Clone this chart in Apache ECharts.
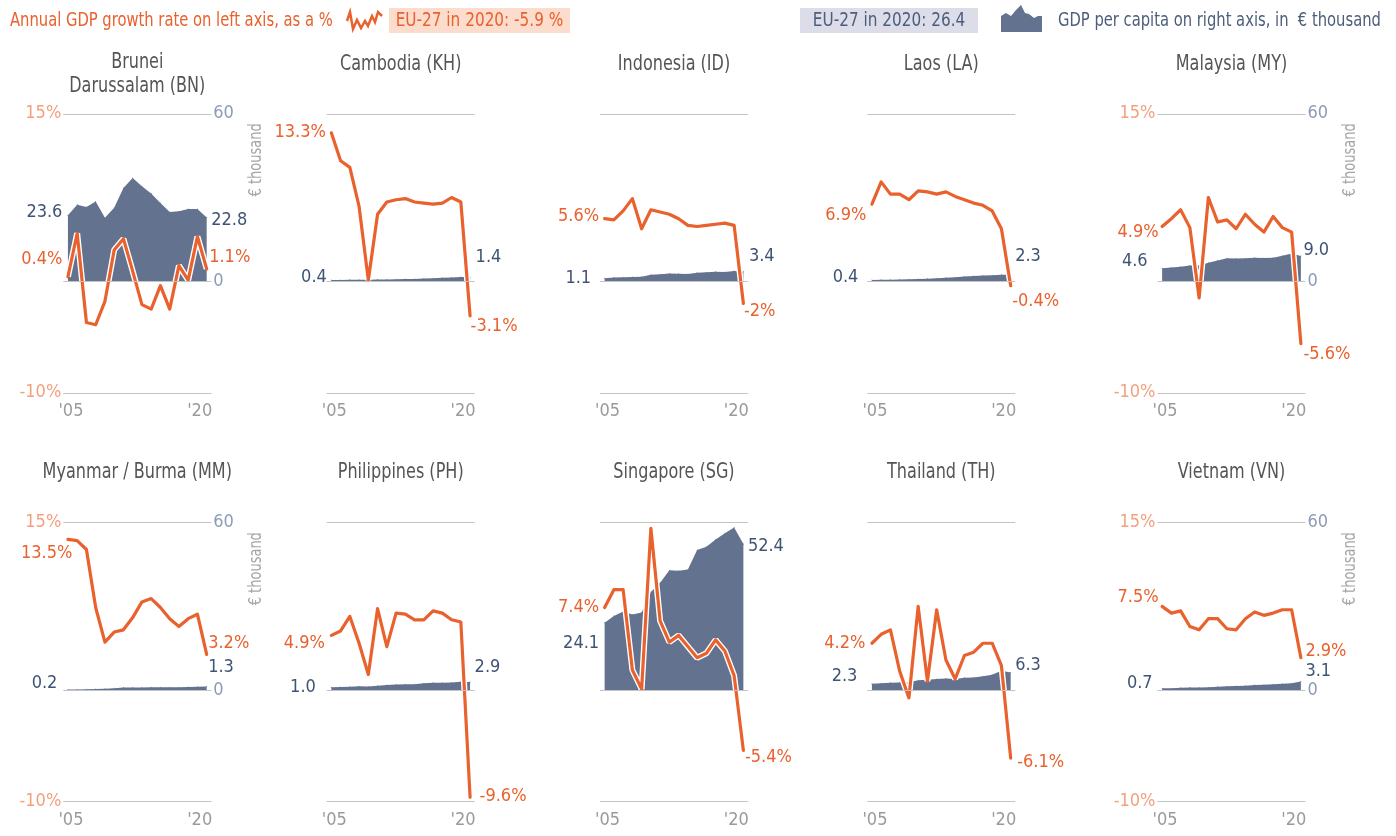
<!DOCTYPE html>
<html><head><meta charset="utf-8">
<script src="https://cdn.jsdelivr.net/npm/echarts@6/dist/echarts.min.js"></script>
<style>html,body{margin:0;padding:0;background:#fff}#c{width:1396px;height:836px}</style>
</head><body><div id="c"></div>
<script>
// ---------- DATA ----------
const YEARS = [2005,2006,2007,2008,2009,2010,2011,2012,2013,2014,2015,2016,2017,2018,2019,2020];
const X_TICKS = ["'05", "'20"];
const LEFT_TICKS = [15, -10];   // % labels shown on left axis
const RIGHT_TICKS = [60, 0];    // € thousand labels shown on right axis
const TITLES = ['Brunei\nDarussalam (BN)','Cambodia (KH)','Indonesia (ID)','Laos (LA)','Malaysia (MY)',
                'Myanmar / Burma (MM)','Philippines (PH)','Singapore (SG)','Thailand (TH)','Vietnam (VN)'];

const growthBN = [0.4, 4.3, -3.7, -3.9, -1.8, 2.8, 3.8, 0.9, -2.1, -2.5, -0.4, -2.5, 1.4, 0.1, 4.0, 1.1];
const gdpBN    = [23.6, 27.4, 26.6, 28.6, 22.7, 26.3, 33.4, 37.0, 34.0, 31.4, 28.0, 24.8, 25.1, 25.9, 25.9, 22.8];
const growthKH = [13.3, 10.8, 10.2, 6.7, 0.1, 6.0, 7.1, 7.3, 7.4, 7.1, 7.0, 6.9, 7.0, 7.5, 7.1, -3.1];
const gdpKH    = [0.4, 0.4, 0.5, 0.5, 0.5, 0.6, 0.6, 0.7, 0.8, 0.8, 1.0, 1.1, 1.2, 1.3, 1.5, 1.4];
const growthID = [5.6, 5.5, 6.3, 7.4, 4.7, 6.4, 6.2, 6.0, 5.6, 5.0, 4.9, 5.0, 5.1, 5.2, 5.0, -2.0];
const gdpID    = [1.1, 1.3, 1.4, 1.5, 1.6, 2.3, 2.5, 2.8, 2.7, 2.6, 3.0, 3.2, 3.4, 3.3, 3.7, 3.4];
const growthLA = [6.9, 8.9, 7.8, 7.8, 7.3, 8.1, 8.0, 7.8, 8.0, 7.6, 7.3, 7.0, 6.8, 6.3, 4.7, -0.4];
const gdpLA    = [0.4, 0.5, 0.5, 0.6, 0.7, 0.8, 0.9, 1.1, 1.2, 1.4, 1.7, 1.9, 2.0, 2.1, 2.3, 2.3];
const growthMY = [4.9, 5.6, 6.4, 4.8, -1.5, 7.5, 5.3, 5.5, 4.7, 6.0, 5.1, 4.4, 5.8, 4.8, 4.4, -5.6];
const gdpMY    = [4.6, 4.9, 5.2, 5.6, 5.6, 6.6, 7.4, 8.2, 8.1, 8.2, 8.4, 8.3, 8.4, 9.1, 9.9, 9.0];
const growthMM = [13.5, 13.4, 12.6, 7.4, 4.3, 5.2, 5.4, 6.5, 7.9, 8.2, 7.4, 6.4, 5.7, 6.4, 6.8, 3.2];
const gdpMM    = [0.2, 0.2, 0.3, 0.4, 0.5, 0.7, 0.9, 0.9, 0.9, 1.0, 1.0, 1.0, 1.0, 1.1, 1.2, 1.3];
const growthPH = [4.9, 5.3, 6.6, 4.2, 1.4, 7.3, 3.9, 6.9, 6.8, 6.3, 6.3, 7.1, 6.9, 6.3, 6.1, -9.6];
const gdpPH    = [1.0, 1.1, 1.2, 1.4, 1.3, 1.6, 1.8, 2.0, 2.1, 2.1, 2.5, 2.6, 2.6, 2.7, 3.0, 2.9];
const growthSG = [7.4, 9.0, 9.0, 1.8, 0.1, 14.5, 6.2, 4.3, 4.9, 3.9, 2.9, 3.3, 4.5, 3.5, 1.3, -5.4];
const gdpSG    = [24.1, 26.6, 28.2, 27.1, 27.8, 35.2, 38.5, 43.0, 42.8, 43.2, 50.2, 51.4, 54.0, 56.2, 58.3, 52.4];
const growthTH = [4.2, 5.0, 5.4, 1.7, -0.7, 7.5, 0.8, 7.2, 2.7, 1.0, 3.1, 3.4, 4.2, 4.2, 2.2, -6.1];
const gdpTH    = [2.3, 2.5, 2.6, 2.7, 2.8, 3.5, 3.7, 4.0, 4.2, 4.0, 4.4, 4.5, 5.0, 5.5, 6.9, 6.3];
const growthVN = [7.5, 6.9, 7.1, 5.7, 5.4, 6.4, 6.4, 5.5, 5.4, 6.4, 7.0, 6.7, 6.9, 7.2, 7.2, 2.9];
const gdpVN    = [0.7, 0.7, 0.8, 0.9, 0.9, 1.0, 1.2, 1.4, 1.5, 1.6, 1.8, 1.9, 2.1, 2.3, 2.5, 3.1];

const GROWTH = [growthBN, growthKH, growthID, growthLA, growthMY, growthMM, growthPH, growthSG, growthTH, growthVN];
const GDP    = [gdpBN, gdpKH, gdpID, gdpLA, gdpMY, gdpMM, gdpPH, gdpSG, gdpTH, gdpVN];

// ---------- LAYOUT / STYLE ----------
const FONT = "'Liberation Sans Narrow','DejaVu Sans Condensed','Arial Narrow',sans-serif";
const LBL = 18;          // label font size
const SX = 0.85;         // horizontal squeeze for free text
const SXL = 0.82;        // squeeze for legend text
const ORANGE = '#e9612d', ORANGE_LIGHT = '#f3a07e', AREA = '#63728f', BLUE_TXT = '#3f5475', BLUE_LIGHT = '#8e9bb7';
const GRIDLINE = '#c4c4c4', TITLE_C = '#555555', XLAB = '#9a9a9a';
const COL_LEFT = [63.3, 326.7, 600, 867.3, 1157.5];
const GRID_W = 148;
const ROW_TOP = [113.8, 522.7];
const GRID_H = 279;
const AXES_SHOWN = [true, false, false, false, true, true, false, false, false, true];
// label offsets [firstGrowth, firstGdp, lastGrowth, lastGdp] as [dx, dy]
const LOFF = [
  [[0,-17],[0,-3],[-3,-12],[-1,3]],
  [[0,0],[1,-3],[-5,11],[0,-20]],
  [[0,-2],[-8,0],[-5,8],[0,-15]],
  [[0,11],[-8,-3],[-4,16],[-1,-18]],
  [[2,6],[-9,-7],[-3,11],[-3,-6]],
  [[10,14],[-5,-6],[-4,-11],[-4,-19]],
  [[-1,8],[-10,0],[4,-1],[-1,-15]],
  [[0,0],[0,20],[-4,7],[-1,2]],
  [[-1,0],[-9,-7],[1,4],[-1,-7]],
  [[2,-9],[-4,-5],[-1,-6],[-1,-10]]
];

const grids = [], xAxes = [], yAxes = [], series = [], graphics = [];
const fmtNum = v => (Math.abs(v) < 10 && Math.round(v) === v) ? v.toFixed(1) : String(v);
const fmtPct = v => String(v) + '%';

function mkItems(arr, fmt, color, offs) {
  const n = arr.length;
  return arr.map((v, i) => {
    if (i === 0 || i === n - 1) {
      const o = i === 0 ? offs[0] : offs[1];
      return { value: v, label: { show: true, position: i === 0 ? 'left' : 'right', distance: 5,
        offset: o, formatter: () => fmt(v), color: color, fontSize: LBL, fontFamily: FONT } };
    }
    return v;
  });
}

for (let p = 0; p < 10; p++) {
  const row = Math.floor(p / 5), col = p % 5;
  const left = COL_LEFT[col], top = ROW_TOP[row];
  grids.push({ left: left, top: top, width: GRID_W, height: GRID_H });
  xAxes.push({
    type: 'category', gridIndex: p, data: YEARS, boundaryGap: true,
    axisLine: { show: false }, axisTick: { show: false }, splitLine: { show: false },
    axisLabel: {
      interval: (idx) => idx === 0 || idx === YEARS.length - 1,
      formatter: (v, idx) => idx === 0 ? '{a|' + X_TICKS[0] + '}' : '{b|' + X_TICKS[1] + '}',
      rich: {
        a: { padding: [0, 0, 0, 6], color: XLAB, fontSize: LBL, fontFamily: FONT },
        b: { padding: [0, 14, 0, 0], color: XLAB, fontSize: LBL, fontFamily: FONT }
      },
      color: XLAB, fontSize: LBL, fontFamily: FONT, margin: 10
    }
  });
  const show = AXES_SHOWN[p];
  yAxes.push({
    type: 'value', gridIndex: p, position: 'left', min: -10, max: 15, interval: 5,
    axisLine: { show: false }, axisTick: { show: false }, splitLine: { show: false },
    axisLabel: { show: show, margin: 2, color: ORANGE_LIGHT, fontSize: LBL, fontFamily: FONT,
      formatter: v => LEFT_TICKS.indexOf(v) >= 0 ? v + '%' : '' }
  });
  yAxes.push({
    type: 'value', gridIndex: p, position: 'right', min: -40, max: 60, interval: 20,
    axisLine: { show: false }, axisTick: { show: false }, splitLine: { show: false },
    axisLabel: { show: show, margin: 2, color: BLUE_LIGHT, fontSize: LBL, fontFamily: FONT,
      formatter: v => RIGHT_TICKS.indexOf(v) >= 0 ? String(v) : '' }
  });
  const off = LOFF[p];
  // area: GDP per capita (right axis)
  series.push({
    type: 'line', xAxisIndex: p, yAxisIndex: 2 * p + 1, z: 1,
    data: mkItems(GDP[p], fmtNum, BLUE_TXT, [off[1], off[3]]),
    symbol: 'circle', symbolSize: 1, itemStyle: { color: AREA },
    lineStyle: { width: 0, color: AREA }, areaStyle: { color: AREA, opacity: 1 },
    animation: false, silent: true,
    markLine: { silent: true, symbol: 'none', label: { show: false }, animation: false,
      lineStyle: { color: GRIDLINE, width: 1.2, type: 'solid' },
      data: [{ yAxis: 60 }, { yAxis: 0 }, { yAxis: -40 }] }
  });
  // white halo under growth line
  series.push({
    type: 'line', xAxisIndex: p, yAxisIndex: 2 * p, z: 2, data: GROWTH[p],
    symbol: 'none', lineStyle: { width: 6, color: '#ffffff' }, animation: false, silent: true
  });
  // growth line (left axis)
  series.push({
    type: 'line', xAxisIndex: p, yAxisIndex: 2 * p, z: 3,
    data: mkItems(GROWTH[p], fmtPct, ORANGE, [off[0], off[2]]),
    symbol: 'circle', symbolSize: 1, itemStyle: { color: ORANGE },
    lineStyle: { width: 3.2, color: ORANGE, join: 'round', cap: 'round' }, animation: false, silent: true
  });
  // panel title
  const lines = TITLES[p].split('\n').length;
  graphics.push({ type: 'text', x: left + GRID_W / 2, y: row === 0 ? (lines > 1 ? 75 : 65) : 473, scaleX: SX,
    style: { text: TITLES[p], fill: TITLE_C, font: '21px ' + FONT, align: 'center', verticalAlign: 'middle', lineHeight: 24 } });
  if (show) {
    graphics.push({ type: 'text', x: left + GRID_W + 45, y: top + 46, rotation: Math.PI / 2, scaleX: SX,
      style: { text: '€ thousand', fill: '#a6a6a6', font: '17px ' + FONT, align: 'center', verticalAlign: 'middle' } });
  }
}

// ---------- LEGEND (top) ----------
graphics.push(
  { type: 'text', x: 10, y: 21, scaleX: SXL, style: { text: 'Annual GDP growth rate on left axis, as a %', fill: ORANGE, font: '20px ' + FONT, align: 'left', verticalAlign: 'middle' } },
  { type: 'polyline', shape: { points: [[347,21],[350,12],[353,29],[357,20],[361,28],[365,21],[368,26],[372,16],[375,22],[378,12],[382,16]] },
    style: { stroke: ORANGE, lineWidth: 2.5, fill: null } },
  { type: 'rect', shape: { x: 389, y: 8, width: 181, height: 25 }, style: { fill: '#fcdccd' } },
  { type: 'text', x: 479.5, y: 21, scaleX: SX, style: { text: 'EU-27 in 2020: -5.9 %', fill: ORANGE, font: '20px ' + FONT, align: 'center', verticalAlign: 'middle' } },
  { type: 'rect', shape: { x: 800, y: 8, width: 178, height: 25 }, style: { fill: '#dcdde8' } },
  { type: 'text', x: 889, y: 21, scaleX: SX, style: { text: 'EU-27 in 2020: 26.4', fill: '#4d5e7c', font: '20px ' + FONT, align: 'center', verticalAlign: 'middle' } },
  { type: 'polygon', shape: { points: [[1001,32],[1001,16],[1006,13],[1011,16],[1016,10],[1021,5],[1025,13],[1029,14],[1034,18],[1038,16],[1042,16],[1042,32]] },
    style: { fill: AREA } },
  { type: 'text', x: 1058, y: 21, scaleX: SXL, style: { text: 'GDP per capita on right axis, in  € thousand', fill: '#4d5e7c', font: '20px ' + FONT, align: 'left', verticalAlign: 'middle' } }
);

const chart = echarts.init(document.getElementById('c'), null, { renderer: 'canvas' });
chart.setOption({
  animation: false,
  backgroundColor: '#ffffff',
  grid: grids, xAxis: xAxes, yAxis: yAxes, series: series, graphic: graphics
});
</script></body></html>
